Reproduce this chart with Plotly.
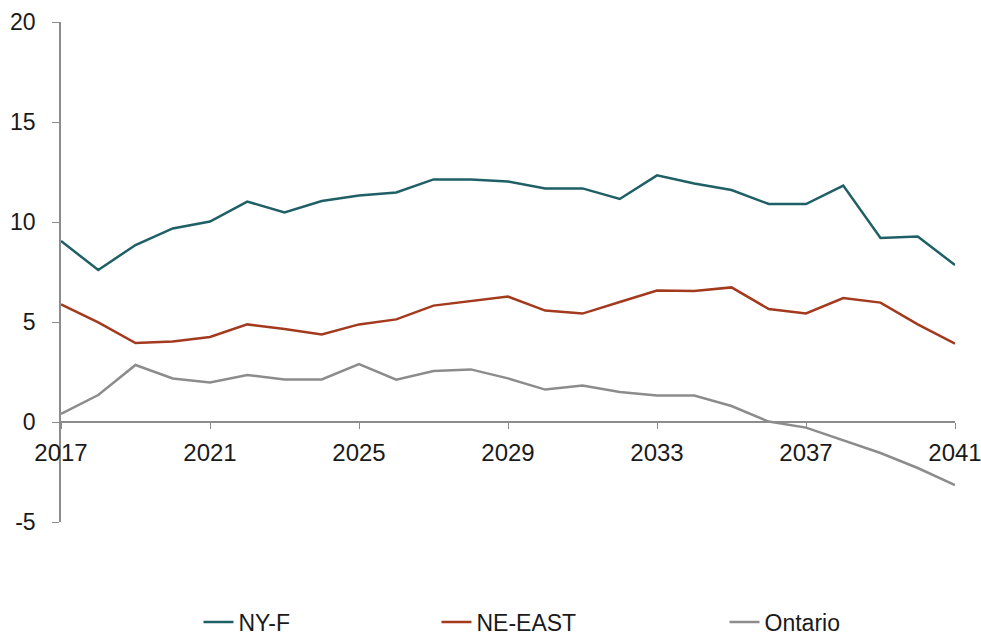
import plotly.graph_objects as go

years = list(range(2017, 2042))
ny_f = [9.05, 7.6, 8.85, 9.68, 10.02, 11.02, 10.48, 11.05, 11.32, 11.48, 12.13, 12.12, 12.02,
        11.68, 11.68, 11.15, 12.33, 11.93, 11.6, 10.9, 10.9, 11.82, 9.2, 9.27, 7.85]
ne_east = [5.88, 4.98, 3.95, 4.03, 4.25, 4.88, 4.65, 4.38, 4.88, 5.13, 5.82, 6.05, 6.27,
           5.57, 5.42, 6.0, 6.57, 6.55, 6.73, 5.65, 5.43, 6.2, 5.97, 4.88, 3.92]
ontario = [0.4, 1.35, 2.85, 2.18, 1.98, 2.35, 2.13, 2.13, 2.9, 2.12, 2.55, 2.63, 2.18,
           1.62, 1.83, 1.5, 1.33, 1.32, 0.8, 0.02, -0.28, -0.9, -1.55, -2.3, -3.15]

series = [("NY-F", ny_f, "#1f5f66", "legend"),
          ("NE-EAST", ne_east, "#a3391d", "legend2"),
          ("Ontario", ontario, "#8c8c8c", "legend3")]

x_ticks = list(range(2017, 2042, 4))
x_tick_labels = [str(v) for v in x_ticks]
y_ticks = [-5, 0, 5, 10, 15, 20]
y_tick_labels = ["-5", "0", "5", "10", "15", "20"]

fig = go.Figure()
for name, vals, color, leg in series:
    fig.add_trace(go.Scatter(x=years, y=vals, mode="lines", name=name, showlegend=True,
                             line=dict(color=color, width=2.5), legend=leg))

font_family = "Liberation Sans, Arial, sans-serif"
axis_color = "#8c8c8c"
text_color = "#1a1a1a"
ymin, ymax = -5, 20

leg_common = dict(orientation="h", yanchor="middle", y=-0.2, xanchor="left",
                  font=dict(family=font_family, size=23, color=text_color),
                  bgcolor="rgba(0,0,0,0)", visible=True)

fig.update_layout(
    width=981, height=637,
    showlegend=True,
    margin=dict(l=61, r=26, t=22, b=115, autoexpand=False),
    plot_bgcolor="white", paper_bgcolor="white",
    font=dict(family=font_family, size=23, color=text_color),
    xaxis=dict(range=[2017, 2041], tickvals=x_ticks, ticktext=x_tick_labels,
               showgrid=False, zeroline=False, showline=True, linecolor=axis_color,
               linewidth=1.5, ticks="outside", ticklen=6, tickcolor=axis_color,
               anchor="free", position=(0 - ymin) / (ymax - ymin),
               ticklabelstandoff=3, automargin=False, ticklabeloverflow="allow",
               tickfont=dict(size=24)),
    yaxis=dict(range=[ymin, ymax], tickvals=y_ticks, ticktext=y_tick_labels,
               showgrid=False, zeroline=False,
               showline=True, linecolor=axis_color, linewidth=1.5, ticks="outside",
               ticklen=7, tickcolor=axis_color, ticklabelstandoff=12, automargin=False,
               ticklabeloverflow="allow", tickfont=dict(size=23)),
    legend=dict(x=0.1538, **leg_common),
    legend2=dict(x=0.4200, **leg_common),
    legend3=dict(x=0.7422, **leg_common),
)

fig.write_html("out.html", config={"displayModeBar": False},
               post_script="document.body.style.margin='0';document.body.style.overflow='hidden';")
